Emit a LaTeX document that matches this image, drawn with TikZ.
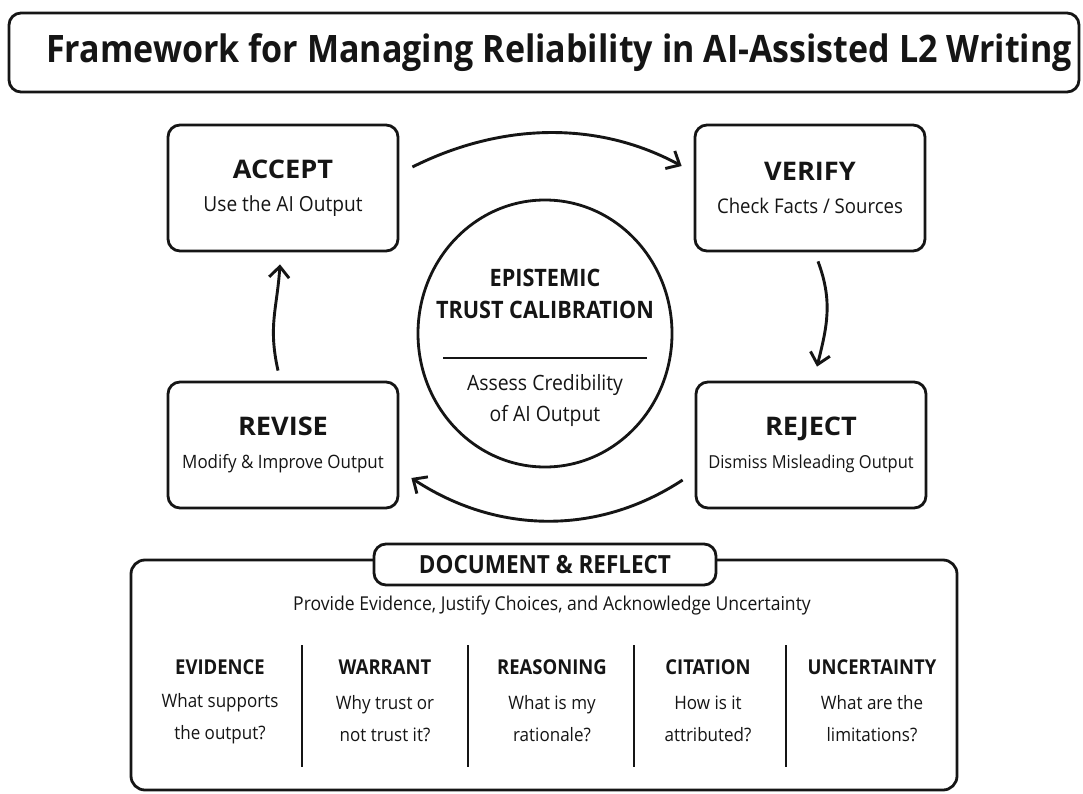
\documentclass[tikz,border=0pt]{standalone}
\usepackage{fontspec}
\setmainfont{Open Sans}[FakeStretch=0.92,BoldFeatures={FakeStretch=0.9}]
\newfontfamily\stagefont{Open Sans}[BoldFeatures={FakeStretch=1.06}]
\usetikzlibrary{arrows.meta, positioning, shapes.geometric}
\newcommand{\fsize}[2]{\fontsize{#1}{#2}\selectfont}
\newcommand{\stagehead}[1]{{\stagefont\fsize{25.6}{33}\bfseries #1}}
\definecolor{ink}{HTML}{151515}

\begin{document}
\begin{tikzpicture}[x=1pt,y=-1pt,color=ink,
	box/.style={draw,rounded corners=12pt,line width=2.8pt,align=center},
	stagebox/.style={box,minimum width=230pt,minimum height=126pt},
	cycle arrow/.style={line width=2.9pt,-{Straight Barb[length=11pt,width=20pt]}},
	colhead/.style={font=\fsize{20.5}{24}\bfseries},
	colsub/.style={font=\fsize{18.5}{32},align=center}]
	\useasboundingbox[fill=white] (0,0) rectangle (1083,794);
	% heading
	\node[box,minimum width=1070pt,minimum height=79pt,font=\fsize{37.8}{40}\bfseries] (title) at (544,52.5)
	{\hspace*{30pt}Framework for Managing Reliability in AI-Assisted L2 Writing};
	% the four stages round the centre
	\node[stagebox,font=\fsize{20.8}{33}] (accept) at (283,188) {\stagehead{ACCEPT}\\Use the AI Output};
	\node[stagebox,font=\fsize{20.2}{33}] (verify) at (810,188) {\stagehead{VERIFY}\\Check Facts / Sources};
	\node[stagebox,font=\fsize{18.4}{33}] (revise) at (283,445) {\stagehead{REVISE}\\Modify \& Improve Output};
	\node[stagebox,font=\fsize{17.9}{33}] (reject) at (811,445) {\stagehead{REJECT}\\Dismiss Misleading Output};
	\node[ellipse,draw,line width=2.8pt,minimum width=254pt,minimum height=267pt] (trust) at (545,333.5) {};
	\node[align=center,font=\fsize{24}{32}\bfseries] (trust-head) at (545,294) {EPISTEMIC\\TRUST CALIBRATION};
	\node[align=center,font=\fsize{21.1}{31}] (trust-sub) at (545,400.5) {Assess Credibility\\of AI Output};
	\draw[line width=2.2pt] ([shift={(-102,24.5)}]trust.center) -- ([shift={(102,24.5)}]trust.center);
	% cycle
	\draw[cycle arrow] ([shift={(13,-21)}]accept.east) .. controls +(90,-45) and +(-83,-45) .. ([shift={(-12,-22)}]verify.west);
	\draw[cycle arrow] ([shift={(8,9)}]verify.south) .. controls +(15,40) and +(10,-40) .. ([shift={(6,-14)}]reject.north);
	\draw[cycle arrow] ([shift={(-12,35)}]reject.west) .. controls +(-85,56) and +(85,56) .. ([shift={(12,33)}]revise.east);
	\draw[cycle arrow] ([shift={(-5,-10)}]revise.north) .. controls +(-10,-45) and +(-3,45) .. ([shift={(-3,12)}]accept.south);
	% documentation panel
	\node[box,rounded corners=14pt,minimum width=826pt,minimum height=230pt] (reflect) at (544,675) {};
	\node[box,fill=white,minimum width=342pt,minimum height=41pt,font=\fsize{25}{30}\bfseries] (reflect-head) at (545,564.5) {DOCUMENT \& REFLECT};
	\node[font=\fsize{19.1}{24}] (reflect-sub) at (552,605) {Provide Evidence, Justify Choices, and Acknowledge Uncertainty};
	\foreach \x/\name/\head/\qa/\qb in {220/evidence/EVIDENCE/What supports/the output?,
		385/warrant/WARRANT/Why trust or/not trust it?,
		552/reasoning/REASONING/What is my/rationale?,
		708/citation/CITATION/How is it/attributed?,
		872/uncertainty/UNCERTAINTY/What are the/limitations?}{
		\node[colhead] (h-\name) at (\x,667) {\head};
		\node[colsub] (q-\name) at (\x,719) {\qa\\\qb};
	}
	\foreach \x in {302,468,634,786}
		\draw[line width=2pt] (\x,645) -- (\x,767);
\end{tikzpicture}
\end{document}
